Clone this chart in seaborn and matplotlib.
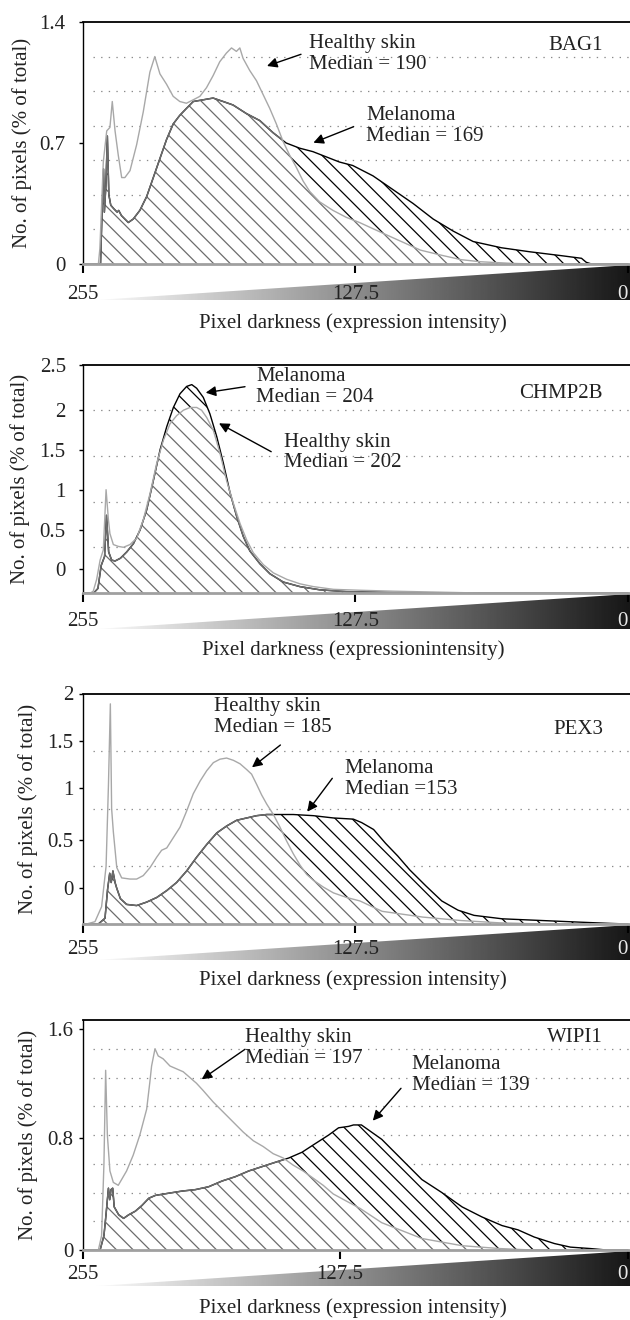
import numpy as np
import pandas as pd
import matplotlib
matplotlib.use("Agg")
import matplotlib.pyplot as plt
import seaborn as sns
from matplotlib.patches import Polygon

# ---------------- data (pixel darkness 255 -> 0, % of pixels) ----------------
GENES = ["BAG1", "CHMP2B", "PEX3", "WIPI1"]
HEALTHY_MEDIANS = [190, 202, 185, 197]
MELANOMA_MEDIANS = [169, 204, 153, 139]
XTICK_LABELS = ["255", "127.5", "0"]
XLABELS = ["Pixel darkness (expression intensity)",
           "Pixel darkness (expressionintensity)",
           "Pixel darkness (expression intensity)",
           "Pixel darkness (expression intensity)"]

BAG1_HEALTHY_X = [255, 250, 247.8, 247.1, 245.5, 243.9, 242.4, 241.3, 240.0, 238.5, 236.9, 235.4, 233.0,
                  229.9, 226.8, 223.7, 221.4, 219.0, 215.9, 212.8, 209.7, 206.6, 203.4, 200.3, 197.2,
                  194.1, 191.0, 187.9, 185.5, 183.2, 181.6, 180.1, 177.0, 173.8, 170.7, 167.6, 164.5,
                  161.4, 158.3, 155.2, 152.0, 148.9, 144.3, 138.0, 131.8, 125.6, 115, 106, 97, 87, 78,
                  69, 55, 45, 0]
BAG1_HEALTHY_Y = [0, 0, 0, 0.09, 0.59, 0.77, 0.79, 0.94, 0.77, 0.63, 0.50, 0.50, 0.54,
                  0.69, 0.88, 1.11, 1.20, 1.10, 1.04, 0.97, 0.94, 0.93, 0.95, 0.97, 1.02,
                  1.09, 1.17, 1.22, 1.25, 1.23, 1.25, 1.19, 1.12, 1.06, 0.98, 0.90, 0.81,
                  0.71, 0.63, 0.56, 0.48, 0.42, 0.36, 0.31, 0.27, 0.24, 0.18, 0.13, 0.08, 0.05, 0.025,
                  0.013, 0.004, 0, 0]
BAG1_MEL_X = [255, 248, 246.8, 246.2, 245.4, 245.0, 244.3, 243.6, 242.9, 242.0, 240.6, 239.0, 238.3,
              237.0, 235.4, 233.8, 231.5, 228.4, 225.2, 222.1, 219.0, 215.9, 212.8, 209.7, 206.6,
              203.4, 198.7, 194.1, 189.4, 184.8, 178.5, 172.3, 166.1, 159.9, 153.6, 147.4, 141.2,
              135.0, 128.8, 119.3, 109.9, 100.5, 91.1, 81.7, 72.4, 59.2, 46.1, 31.0, 21.7, 19.5, 17, 0]
BAG1_MEL_Y = [0, 0, 0, 0.25, 0.55, 0.30, 0.45, 0.74, 0.40, 0.34, 0.32, 0.30, 0.31,
              0.28, 0.26, 0.24, 0.26, 0.31, 0.39, 0.50, 0.61, 0.72, 0.81, 0.86, 0.90,
              0.94, 0.95, 0.96, 0.94, 0.92, 0.87, 0.83, 0.76, 0.70, 0.67, 0.65, 0.62,
              0.59, 0.57, 0.51, 0.43, 0.35, 0.26, 0.19, 0.13, 0.094, 0.071, 0.048, 0.033, 0.01, 0, 0]

CHMP2B_HEALTHY_X = [255, 251.5, 250.2, 248.6, 247.0, 245.5, 244.2, 243.1, 242.4, 240.8, 238.5, 236.1,
                    233.0, 229.9, 226.8, 223.6, 220.5, 217.4, 214.3, 211.2, 208.0, 204.9, 201.8, 199.5,
                    197.1, 194.0, 190.9, 187.8, 184.6, 181.5, 178.4, 175.3, 170.6, 165.9, 159.7, 153.4,
                    147.2, 137.8, 125.4, 110, 90, 70, 0]
CHMP2B_HEALTHY_Y = [0, 0, 0.02, 0.15, 0.36, 0.47, 1.13, 0.80, 0.65, 0.53, 0.51, 0.50,
                    0.53, 0.60, 0.80, 1.09, 1.42, 1.67, 1.85, 1.94, 2.00, 2.03, 2.03, 2.00,
                    1.92, 1.78, 1.53, 1.23, 0.98, 0.76, 0.58, 0.44, 0.31, 0.22, 0.15, 0.10,
                    0.07, 0.04, 0.03, 0.02, 0.01, 0, 0]
CHMP2B_MEL_X = [255, 250, 248.0, 246.5, 244.9, 244.0, 243.0, 241.6, 240.0, 237.5, 234.5, 231.4, 228.3,
                225.2, 222.0, 218.9, 215.8, 212.7, 209.6, 206.5, 204.1, 201.8, 198.7, 195.6, 192.4,
                189.3, 186.2, 183.1, 180.0, 176.9, 172.2, 167.5, 161.3, 153.5, 144.2, 131.7, 110, 95, 0]
CHMP2B_MEL_Y = [0, 0, 0.05, 0.30, 0.40, 0.85, 0.45, 0.36, 0.35, 0.38, 0.45, 0.54, 0.69,
                0.91, 1.24, 1.57, 1.82, 2.03, 2.18, 2.26, 2.28, 2.24, 2.14, 1.96, 1.71,
                1.42, 1.10, 0.84, 0.62, 0.46, 0.32, 0.21, 0.12, 0.07, 0.035, 0.015, 0.005, 0, 0]

PEX3_HEALTHY_X = [255, 253.3, 249.4, 246.3, 244.2, 243.1, 242.2, 241.6, 240.8, 239.2, 236.9, 233.0,
                  229.9, 226.8, 223.6, 220.5, 218.2, 215.8, 212.7, 209.6, 206.5, 203.4, 200.2, 197.1,
                  194.0, 190.9, 187.8, 184.6, 181.5, 178.4, 176.1, 173.7, 171.4, 169.0, 165.9, 162.8,
                  159.7, 156.6, 153.4, 150.3, 147.2, 142.5, 137.8, 131.6, 125.4, 115, 96, 78, 60, 40, 0]
PEX3_HEALTHY_Y = [0, 0, 0.02, 0.15, 0.50, 1.20, 1.91, 1.00, 0.80, 0.49, 0.40, 0.39,
                  0.39, 0.42, 0.49, 0.58, 0.64, 0.66, 0.75, 0.84, 0.98, 1.13, 1.24, 1.33,
                  1.40, 1.43, 1.44, 1.42, 1.39, 1.34, 1.30, 1.21, 1.12, 1.04, 0.95, 0.84,
                  0.72, 0.61, 0.51, 0.43, 0.38, 0.32, 0.27, 0.23, 0.20, 0.11, 0.06, 0.03, 0.01, 0, 0]
PEX3_MEL_X = [255, 247.8, 244.7, 243.5, 242.5, 241.8, 241.0, 240.0, 239.2, 237.5, 234.6, 229.9, 225.2,
              220.5, 215.8, 211.2, 206.5, 201.8, 197.1, 192.4, 187.8, 183.1, 178.4, 173.7, 169.0,
              162.8, 156.6, 147.2, 137.8, 128.5, 124.6, 119.0, 113.4, 107.7, 102.1, 94.5, 87.1,
              79.5, 72.0, 58.8, 40.0, 21.2, 8.0, 0]
PEX3_MEL_Y = [0, 0, 0.05, 0.30, 0.44, 0.36, 0.46, 0.36, 0.31, 0.22, 0.17, 0.16, 0.19,
              0.23, 0.29, 0.36, 0.46, 0.58, 0.69, 0.79, 0.85, 0.90, 0.92, 0.94, 0.95,
              0.95, 0.95, 0.94, 0.92, 0.91, 0.88, 0.82, 0.70, 0.59, 0.47, 0.33, 0.20,
              0.12, 0.075, 0.045, 0.03, 0.015, 0.005, 0]

WIPI1_HEALTHY_X = [255, 247.8, 246.3, 245.2, 244.4, 243.6, 242.4, 240.8, 238.5, 234.6, 231.5, 228.4,
                   225.2, 223.7, 222.9, 221.3, 219.8, 217.5, 214.3, 211.2, 208.1, 205.0, 201.9, 198.8,
                   194.1, 189.4, 184.7, 180.0, 175.3, 170.7, 166.0, 161.3, 156.6, 152.0, 147.3, 142.6,
                   137.9, 131.7, 125.4, 115.2, 96.4, 77.6, 60, 45, 0]
WIPI1_HEALTHY_Y = [0, 0, 0.10, 0.60, 1.25, 0.80, 0.55, 0.47, 0.45, 0.55, 0.66, 0.80,
                   0.98, 1.17, 1.28, 1.40, 1.35, 1.33, 1.28, 1.26, 1.24, 1.20, 1.16, 1.11,
                   1.03, 0.96, 0.89, 0.82, 0.76, 0.72, 0.67, 0.64, 0.59, 0.55, 0.50, 0.45,
                   0.39, 0.34, 0.29, 0.19, 0.08, 0.03, 0.01, 0, 0]
WIPI1_MEL_X = [255, 247, 245.2, 244.2, 243.1, 242.5, 241.9, 241.1, 240.4, 238.3, 236.0, 233.6, 230.5,
               227.4, 224.2, 221.1, 214.9, 208.6, 202.4, 196.2, 189.9, 183.7, 177.4, 171.2, 165.0,
               158.7, 152.5, 146.3, 140.0, 135.4, 130.7, 128.4, 124.7, 115.2, 105.8, 96.4, 87.1,
               77.6, 68.3, 58.9, 51.4, 43.8, 34.4, 26.9, 17.5, 10, 0]
WIPI1_MEL_Y = [0, 0, 0.10, 0.25, 0.43, 0.35, 0.42, 0.43, 0.30, 0.245, 0.22, 0.245, 0.27,
               0.31, 0.36, 0.38, 0.395, 0.41, 0.42, 0.44, 0.48, 0.51, 0.55, 0.58, 0.61,
               0.64, 0.68, 0.74, 0.80, 0.85, 0.86, 0.87, 0.87, 0.77, 0.63, 0.49, 0.40,
               0.30, 0.23, 0.17, 0.14, 0.09, 0.045, 0.02, 0.01, 0, 0]

# y tick labels as printed (label positions follow the original artwork)
BAG1_YTICKS, BAG1_YLABELS = [0, 0.7, 1.4], ["0", "0.7", "1.4"]
CHMP2B_YTICKS, CHMP2B_YLABELS = [0.263, 0.689, 1.127, 1.565, 2.0, 2.5], ["0", "0.5", "1", "1.5", "2", "2.5"]
PEX3_YTICKS, PEX3_YLABELS = [0.315, 0.729, 1.178, 1.586, 2.0], ["0", "0.5", "1", "1.5", "2"]
WIPI1_YTICKS, WIPI1_YLABELS = [0, 0.78, 1.54], ["0", "0.8", "1.6"]

# ---------------- layout (pixel positions in a 630 x 1320 canvas) ----------------
W, H = 630, 1320
LAYOUT = [
    dict(top=22, bot=264, ylim=(0, 1.4), grid=[0.2, 0.4, 0.6, 0.8, 1.0, 1.2], xt=[255, 127.5, 0],
         xpad=8.7, ypad=9.4, ylab_x=-0.093, xlab_y=-0.2025,
         h_txt=(308.6, 54), h_arr=((301, 54.3), (267, 66)),
         m_txt=(366.4, 126), m_arr=((353.6, 126.7), (313.4, 142.7)), gene_y=45),
    dict(top=364.5, bot=593, ylim=(0, 2.5), grid=[0.5, 1.0, 1.5, 2.0], xt=[255, 127.5, 0],
         xpad=7.5, ypad=9.4, ylab_x=-0.097, xlab_y=-0.2057,
         h_txt=(283.6, 452.5), h_arr=((271.2, 451.7), (219, 423.3)),
         m_txt=(256.3, 387), m_arr=((245, 386.7), (205.7, 392.7)), gene_y=393),
    dict(top=693.5, bot=924, ylim=(0, 2.0), grid=[0.5, 1.0, 1.5], xt=[255, 127.5, 0],
         xpad=5.3, ypad=4.0, ylab_x=-0.0823, xlab_y=-0.1996,
         h_txt=(214, 717), h_arr=((280.4, 745), (252, 767.3)),
         m_txt=(344.7, 778.7), m_arr=((332.3, 778.3), (307.3, 811.7)), gene_y=730),
    dict(top=1020, bot=1250, ylim=(0, 1.6), grid=[0.2, 0.4, 0.6, 0.8, 1.0, 1.2, 1.4], xt=[255, 134.7, 0],
         xpad=4.6, ypad=4.0, ylab_x=-0.0823, xlab_y=-0.2087,
         h_txt=(245, 1048), h_arr=((245, 1049.3), (201.7, 1079.3)),
         m_txt=(411.8, 1075), m_arr=((401, 1088.3), (372.8, 1120.7)), gene_y=1038),
]

SERIES = [
    (BAG1_HEALTHY_X, BAG1_HEALTHY_Y, BAG1_MEL_X, BAG1_MEL_Y, BAG1_YTICKS, BAG1_YLABELS),
    (CHMP2B_HEALTHY_X, CHMP2B_HEALTHY_Y, CHMP2B_MEL_X, CHMP2B_MEL_Y, CHMP2B_YTICKS, CHMP2B_YLABELS),
    (PEX3_HEALTHY_X, PEX3_HEALTHY_Y, PEX3_MEL_X, PEX3_MEL_Y, PEX3_YTICKS, PEX3_YLABELS),
    (WIPI1_HEALTHY_X, WIPI1_HEALTHY_Y, WIPI1_MEL_X, WIPI1_MEL_Y, WIPI1_YTICKS, WIPI1_YLABELS),
]

sns.set_theme(style="white")
plt.rcParams['font.family'] = ['Liberation Serif', 'DejaVu Serif']
plt.rcParams['hatch.linewidth'] = 0.9
FS = 15

fig = plt.figure(figsize=(W / 100, H / 100), dpi=100)


def fx(px):
    return px / W


def fy(py):
    return 1 - py / H


HATCH = '\\\\'
GRAY_OUT = '#6c6c6c'
LIGHT = '#a8a8a8'

for i, (lay, ser) in enumerate(zip(LAYOUT, SERIES)):
    hx, hy, mx, my, yt, yl = ser
    top, bot = lay['top'], lay['bot']

    # gradient wedge under the axis (drawn first so tick labels sit on top)
    wax = fig.add_axes([fx(96), fy(bot + 36), fx(630) - fx(96), 35 / H])
    grad = np.linspace(0.985, 0.09, 300)[None, :]
    im = wax.imshow(grad, extent=(0, 1, 0, 1), aspect='auto', cmap='gray', vmin=0, vmax=1)
    tri = Polygon([(0, 0), (1, 0), (1, 1)], closed=True, transform=wax.transData)
    im.set_clip_path(tri)
    wax.set_xlim(0, 1)
    wax.set_ylim(0, 1)
    wax.axis('off')

    ax = fig.add_axes([fx(83), fy(bot), fx(630) - fx(83), (bot - top) / H])
    ax.set_facecolor('none')

    for g in lay['grid']:
        ax.axhline(g, xmin=0.018, xmax=1, color='#8a8a8a', lw=0.9, dashes=(1.1, 5.0), zorder=1)

    mel_fill = ax.fill_between(mx, my, 0, facecolor='white', edgecolor='black',
                               hatch=HATCH, linewidth=0, zorder=2)
    mpath = mel_fill.get_paths()[0]
    h_fill = ax.fill_between(hx, hy, 0, facecolor='white', edgecolor=GRAY_OUT,
                             hatch=HATCH, linewidth=0, zorder=3)
    hpath = h_fill.get_paths()[0]
    h_fill.set_clip_path(mpath, ax.transData)

    dfm = pd.DataFrame({'darkness': mx, 'pct': my})
    dfh = pd.DataFrame({'darkness': hx, 'pct': hy})
    sns.lineplot(data=dfm, x='darkness', y='pct', ax=ax, color='black', lw=1.0,
                 sort=False, estimator=None, zorder=4)
    sns.lineplot(data=dfm, x='darkness', y='pct', ax=ax, color=GRAY_OUT, lw=1.1,
                 sort=False, estimator=None, zorder=4.5)
    ax.lines[-1].set_clip_path(hpath, ax.transData)
    sns.lineplot(data=dfh, x='darkness', y='pct', ax=ax, color=LIGHT, lw=1.0,
                 sort=False, estimator=None, zorder=5)

    ax.set_xlim(255, -1)
    ax.set_ylim(*lay['ylim'])

    ax.spines['right'].set_visible(False)
    ax.spines['top'].set_color('black')
    ax.spines['top'].set_linewidth(1.3)
    ax.spines['left'].set_color('black')
    ax.spines['left'].set_linewidth(1.0)
    ax.spines['bottom'].set_color('#a0a0a0')
    ax.spines['bottom'].set_linewidth(2.0)
    ax.spines['bottom'].set_zorder(6)

    ax.set_xticks(lay['xt'])
    ax.set_xticklabels(XTICK_LABELS)
    ax.set_yticks(yt)
    ax.set_yticklabels(yl)
    ax.tick_params(axis='x', bottom=True, direction='out', length=6.5, width=1.5,
                   color='black', pad=lay['xpad'], labelsize=FS, labelcolor='#222222')
    ax.tick_params(axis='y', left=True, direction='out', length=3, width=1,
                   color='black', pad=lay['ypad'], labelsize=FS, labelcolor='#222222')
    # the "0" label sits on the dark end of the wedge: light text, kept inside the canvas
    last = ax.get_xticklabels()[-1]
    last.set_horizontalalignment('right')
    last.set_color('#e8e8e8')

    ax.set_ylabel('No. of pixels (% of total)', fontsize=FS, color='#222222')
    ax.yaxis.set_label_coords(lay['ylab_x'], 0.5)
    ax.set_xlabel(XLABELS[i], fontsize=FS, color='#222222')
    ax.xaxis.set_label_coords(0.4936, lay['xlab_y'])

    # gene name
    fig.text(fx(603), fy(lay['gene_y']), GENES[i], ha='right', va='center', fontsize=FS, color='#222222')

    # annotations
    htxt = "Healthy skin\nMedian = %d" % HEALTHY_MEDIANS[i]
    mtxt = "Melanoma\nMedian = %d" % MELANOMA_MEDIANS[i]
    if i == 2:
        mtxt = "Melanoma\nMedian =%d" % MELANOMA_MEDIANS[i]
    for txt, pos, arr in ((htxt, lay['h_txt'], lay['h_arr']), (mtxt, lay['m_txt'], lay['m_arr'])):
        fig.text(fx(pos[0]), fy(pos[1]), txt, ha='left', va='center', fontsize=FS,
                 linespacing=1.12, color='#222222')
        (tx, ty), (hx_, hy_) = arr
        ax.annotate('', xy=(fx(hx_), fy(hy_)), xycoords='figure fraction',
                    xytext=(fx(tx), fy(ty)), textcoords='figure fraction',
                    annotation_clip=False,
                    arrowprops=dict(arrowstyle='-|>', color='black', lw=1.0,
                                    mutation_scale=15, shrinkA=0, shrinkB=0))

fig.savefig('out.png', dpi=100)
